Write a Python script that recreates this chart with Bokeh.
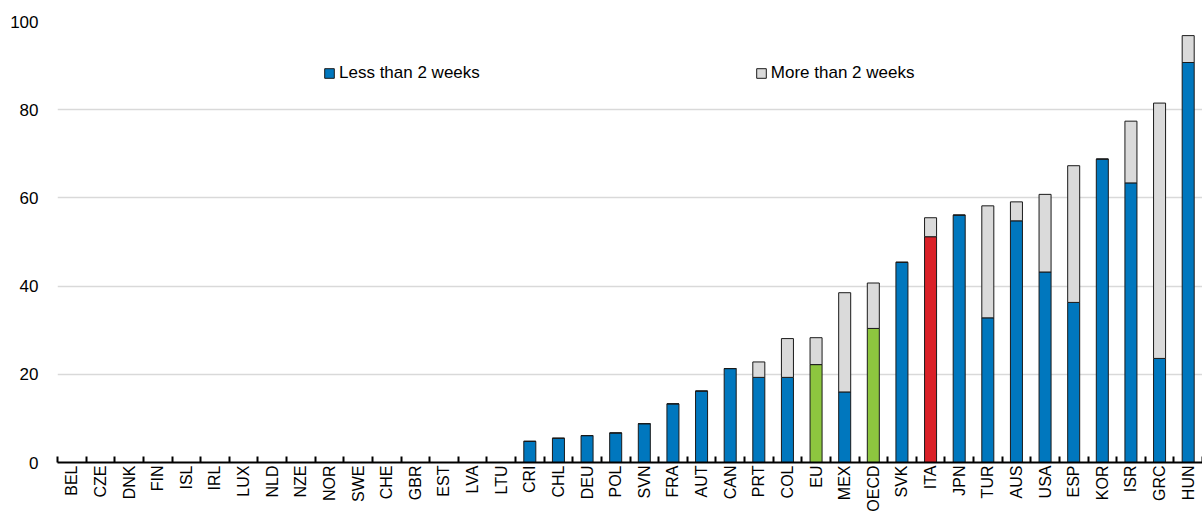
import math
from bokeh.plotting import figure
from bokeh.models import ColumnDataSource, FixedTicker, Legend, LegendItem
from bokeh.embed import file_html
from bokeh.resources import INLINE

countries = ["BEL", "CZE", "DNK", "FIN", "ISL", "IRL", "LUX", "NLD", "NZE", "NOR",
             "SWE", "CHE", "GBR", "EST", "LVA", "LTU", "CRI", "CHL", "DEU", "POL",
             "SVN", "FRA", "AUT", "CAN", "PRT", "COL", "EU", "MEX", "OECD", "SVK",
             "ITA", "JPN", "TUR", "AUS", "USA", "ESP", "KOR", "ISR", "GRC", "HUN"]
less_than_2w = [0, 0, 0, 0, 0, 0, 0, 0, 0, 0,
                0, 0, 0, 0, 0, 0, 4.8, 5.5, 6.1, 6.7,
                8.8, 13.3, 16.2, 21.3, 19.3, 19.3, 22.2, 16.0, 30.4, 45.4,
                51.2, 56.1, 32.8, 54.8, 43.2, 36.3, 68.8, 63.4, 23.6, 90.7]
more_than_2w = [0, 0, 0, 0, 0, 0, 0, 0, 0, 0,
                0, 0, 0, 0, 0, 0, 0, 0, 0, 0,
                0, 0, 0, 0, 3.5, 8.8, 6.1, 22.5, 10.3, 0,
                4.3, 0, 25.4, 4.3, 17.6, 31.0, 0, 14.0, 57.9, 6.1]
y_ticks = [0, 20, 40, 60, 80, 100]

BLUE = "#0077BE"
GREY = "#DADADA"
GREEN = "#8DC63F"
RED = "#DA2128"
highlight = {"EU": GREEN, "OECD": GREEN, "ITA": RED}
FONT = "Liberation Sans"

n = len(countries)
xs = list(range(n))
tops = [a + b for a, b in zip(less_than_2w, more_than_2w)]
colors = [highlight.get(c, BLUE) for c in countries]

src = ColumnDataSource(dict(x=xs, less=less_than_2w, top=tops, color=colors))

p = figure(width=1202, height=514, output_backend="svg", toolbar_location=None,
           x_range=(-0.5, n - 0.5), y_range=(0, 100),
           min_border_left=57, min_border_right=0, min_border_top=21, min_border_bottom=0)
p.outline_line_color = None
p.background_fill_color = "white"

r1 = p.vbar(x="x", bottom=0, top="less", width=0.42, source=src,
            fill_color="color", line_color="#1a1a1a", line_width=1)
r2 = p.vbar(x="x", bottom="less", top="top", width=0.42, source=src,
            fill_color=GREY, line_color="#1a1a1a", line_width=1)

# x axis: labels at category centres, tick marks at category boundaries
p.xaxis.ticker = FixedTicker(ticks=xs, minor_ticks=[i - 0.5 for i in range(n + 1)])
p.xaxis.major_label_overrides = {i: c for i, c in enumerate(countries)}
p.xaxis.major_label_orientation = math.pi / 2
p.xaxis.major_tick_in = 0
p.xaxis.major_tick_out = 0
p.xaxis.minor_tick_in = 6
p.xaxis.minor_tick_out = 0
p.xaxis.minor_tick_line_color = "black"
p.xaxis.minor_tick_line_width = 2
p.xaxis.axis_line_color = "black"
p.xaxis.axis_line_width = 2
p.xaxis.major_label_standoff = 3
p.xaxis.major_label_text_font = FONT
p.xaxis.major_label_text_font_size = "16px"
p.xaxis.major_label_text_color = "black"

p.yaxis.ticker = FixedTicker(ticks=y_ticks)
p.yaxis.axis_line_color = None
p.yaxis.major_tick_line_color = None
p.yaxis.major_tick_in = 0
p.yaxis.major_tick_out = 0
p.yaxis.minor_tick_line_color = None
p.yaxis.minor_tick_in = 0
p.yaxis.minor_tick_out = 0
p.yaxis.major_label_standoff = 19
p.yaxis.major_label_text_font = FONT
p.yaxis.major_label_text_font_size = "17px"
p.yaxis.major_label_text_color = "black"

p.xgrid.grid_line_color = None
p.ygrid.ticker = FixedTicker(ticks=y_ticks[1:])
p.ygrid.grid_line_color = "#D9D9D9"
p.ygrid.grid_line_width = 1.5

legend = Legend(items=[LegendItem(label="Less than 2 weeks", renderers=[r1], index=0),
                       LegendItem(label="More than 2 weeks", renderers=[r2])],
                orientation="horizontal", location=(266, 379),
                spacing=275, padding=0, margin=0,
                glyph_width=12, glyph_height=12, label_standoff=4,
                border_line_color=None, background_fill_alpha=0,
                label_text_font=FONT, label_text_font_size="17px",
                label_text_color="black")
p.add_layout(legend)

open("out.html", "w").write(file_html(p, INLINE))
